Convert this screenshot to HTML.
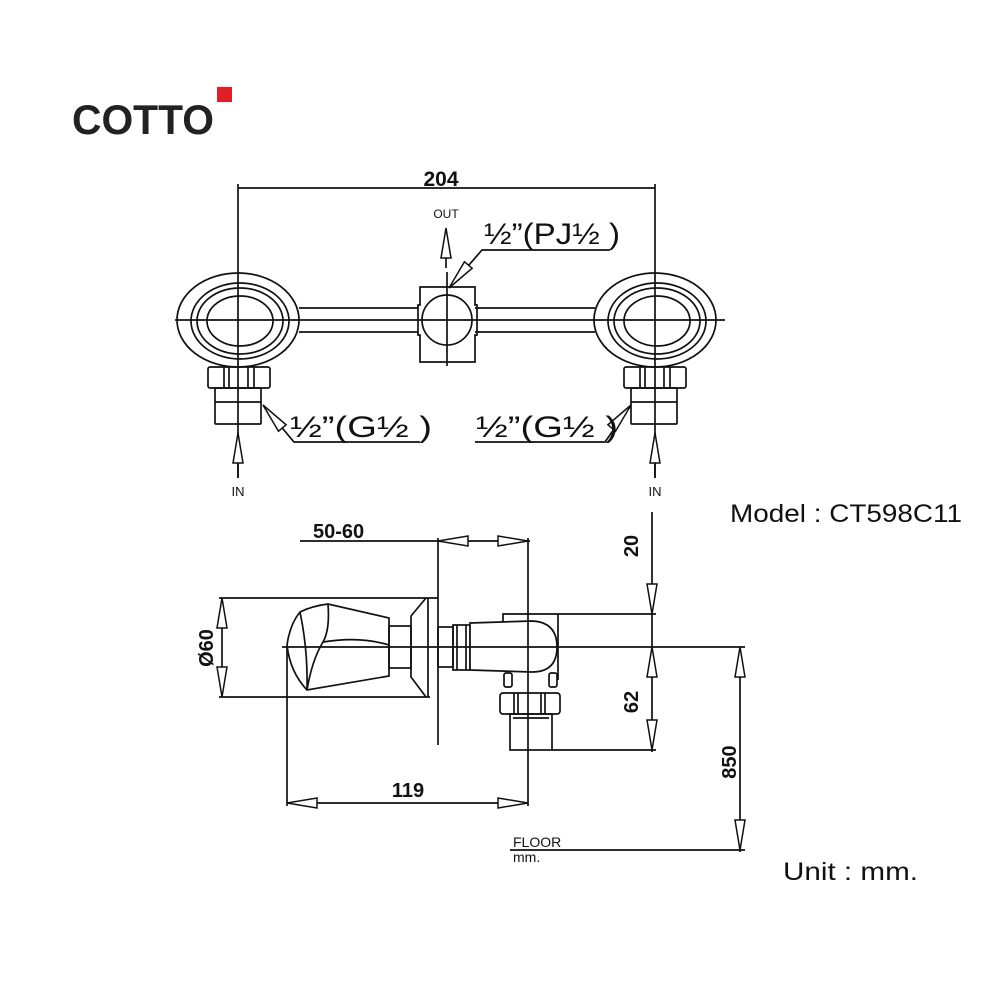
<!DOCTYPE html>
<html><head><meta charset="utf-8"><style>
html,body{margin:0;padding:0;background:#fff;width:1000px;height:1000px;overflow:hidden}
svg{display:block}
text{font-family:"Liberation Sans",sans-serif;fill:#111}
</style></head><body>
<svg width="1000" height="1000" viewBox="0 0 1000 1000" xmlns="http://www.w3.org/2000/svg">
<defs>
<g id="ah"><path d="M0,0 L30,-5 L30,5 Z" fill="#fff" stroke="#111" stroke-width="1.5"/></g>
</defs>
<!-- logo -->
<text x="72" y="134" font-size="42" font-weight="bold" textLength="142" lengthAdjust="spacingAndGlyphs" style="fill:#222">COTTO</text>
<rect x="217" y="87" width="15" height="15" fill="#e01e25"/>

<g stroke="#111" stroke-width="1.7" fill="none">
<!-- TOP VIEW -->
<line x1="238" y1="188" x2="655" y2="188"/>
<!-- left escutcheon -->
<ellipse cx="238" cy="320" rx="61" ry="47" fill="#fff"/>
<ellipse cx="240" cy="321" rx="49" ry="38"/>
<ellipse cx="240" cy="321" rx="43" ry="33"/>
<ellipse cx="240" cy="321" rx="33" ry="25"/>
<!-- right escutcheon -->
<ellipse cx="655" cy="320" rx="61" ry="47" fill="#fff"/>
<ellipse cx="657" cy="321" rx="49" ry="38"/>
<ellipse cx="657" cy="321" rx="43" ry="33"/>
<ellipse cx="657" cy="321" rx="33" ry="25"/>
<line x1="175" y1="320" x2="725" y2="320"/>
<line x1="238" y1="184" x2="238" y2="478"/>
<line x1="655" y1="184" x2="655" y2="478"/>
<!-- bar -->
<line x1="299" y1="308" x2="418" y2="308"/><line x1="299" y1="332" x2="418" y2="332"/>
<line x1="475" y1="308" x2="595" y2="308"/><line x1="475" y1="332" x2="595" y2="332"/>
<!-- center block -->
<path d="M420,287 H475 V305 H477 V335 H475 V362 H420 V335 H418 V305 H420 Z"/>
<circle cx="447" cy="320" r="25"/>
<line x1="447" y1="272" x2="447" y2="366"/>
<!-- OUT arrow -->
<line x1="446" y1="268" x2="446" y2="235"/>
<use href="#ah" transform="translate(446,228) rotate(90)"/>
<!-- PJ leader -->
<polyline points="449,288 482,250 610,250"/>
<use href="#ah" transform="translate(449,288) rotate(-50)"/>
<!-- left nut/pipe -->
<rect x="208" y="367" width="62" height="21" rx="2"/>
<line x1="224" y1="367" x2="224" y2="388"/><line x1="229" y1="367" x2="229" y2="388"/>
<line x1="248" y1="367" x2="248" y2="388"/><line x1="254" y1="367" x2="254" y2="388"/>
<rect x="215" y="388" width="46" height="36" rx="1"/>
<line x1="215" y1="402" x2="261" y2="402"/>
<!-- right nut/pipe -->
<rect x="624" y="367" width="62" height="21" rx="2"/>
<line x1="640" y1="367" x2="640" y2="388"/><line x1="645" y1="367" x2="645" y2="388"/>
<line x1="664" y1="367" x2="664" y2="388"/><line x1="670" y1="367" x2="670" y2="388"/>
<rect x="631" y="388" width="46" height="36" rx="1"/>
<line x1="631" y1="402" x2="677" y2="402"/>
<!-- G leaders -->
<polyline points="263,405 294,442 420,442"/>
<use href="#ah" transform="translate(263,405) rotate(50)"/>
<polyline points="631,405 605,442 475,442"/>
<use href="#ah" transform="translate(631,405) rotate(130)"/>
<!-- IN arrows -->
<line x1="238" y1="440" x2="238" y2="478"/>
<use href="#ah" transform="translate(238,433) rotate(90)"/>
<line x1="655" y1="440" x2="655" y2="478"/>
<use href="#ah" transform="translate(655,433) rotate(90)"/>

<!-- SIDE VIEW -->
<line x1="300" y1="541" x2="530" y2="541"/>
<use href="#ah" transform="translate(438,541)"/>
<use href="#ah" transform="translate(528,541) rotate(180)"/>
<line x1="438" y1="538" x2="438" y2="745"/>
<!-- Ø60 -->
<line x1="219" y1="598" x2="438" y2="598"/>
<line x1="219" y1="697" x2="430" y2="697"/>
<line x1="222" y1="598" x2="222" y2="697"/>
<use href="#ah" transform="translate(222,598) rotate(90)"/>
<use href="#ah" transform="translate(222,697) rotate(-90)"/>
<!-- knob -->
<path d="M300,612 Q312,606 328,604 L389,618 V676 L307,690 Q290,672 287,645 Q290,624 300,612 Z" fill="#fff"/>
<path d="M300,612 Q308,650 307,690"/>
<path d="M328,604 Q330,630 323,642 Q312,660 307,690"/>
<path d="M323,642 Q360,636 389,645"/>
<rect x="389" y="626" width="22" height="42"/>
<path d="M426,598 L411,616 V677 L426,697 M428,598 V697"/>
<!-- connector -->
<rect x="438" y="627" width="15" height="40"/>
<rect x="453" y="625" width="17" height="45"/>
<line x1="457" y1="625" x2="457" y2="670"/><line x1="466" y1="625" x2="466" y2="670"/>
<path d="M503,622 V614 H560 M558,614 V680"/>
<path d="M470,623 L532,621 Q557,622 557,647 Q557,672 532,672 L470,670 Z" fill="#fff"/>
<rect x="504" y="673" width="8" height="14" rx="2"/>
<rect x="549" y="673" width="8" height="14" rx="2"/>
<rect x="500" y="693" width="60" height="21" rx="3" fill="#fff"/>
<line x1="514" y1="693" x2="514" y2="714"/><line x1="518" y1="693" x2="518" y2="714"/>
<line x1="541" y1="693" x2="541" y2="714"/><line x1="545" y1="693" x2="545" y2="714"/>
<rect x="510" y="714" width="42" height="36"/>
<line x1="513" y1="718" x2="549" y2="718"/>
<line x1="282" y1="647" x2="745" y2="647"/>
<line x1="528" y1="538" x2="528" y2="806"/>
<!-- 119 -->
<line x1="287" y1="647" x2="287" y2="806"/>
<line x1="287" y1="803" x2="528" y2="803"/>
<use href="#ah" transform="translate(287,803)"/>
<use href="#ah" transform="translate(528,803) rotate(180)"/>
<!-- 20 / 62 -->
<line x1="652" y1="512" x2="652" y2="752"/>
<line x1="560" y1="614" x2="656" y2="614"/>
<line x1="552" y1="750" x2="656" y2="750"/>
<use href="#ah" transform="translate(652,614) rotate(-90)"/>
<use href="#ah" transform="translate(652,647) rotate(90)"/>
<use href="#ah" transform="translate(652,750) rotate(-90)"/>
<!-- 850 -->
<line x1="740" y1="647" x2="740" y2="852"/>
<use href="#ah" transform="translate(740,647) rotate(90)"/>
<use href="#ah" transform="translate(740,850) rotate(-90)"/>
<line x1="510" y1="850" x2="745" y2="850"/>
</g>

<!-- texts -->
<text x="441" y="186" font-size="21" font-weight="bold" text-anchor="middle">204</text>
<text x="446" y="218" font-size="12" text-anchor="middle">OUT</text>
<text x="484" y="244" font-size="30" textLength="136" lengthAdjust="spacingAndGlyphs">½”(PJ½ )</text>
<text x="290" y="437" font-size="30" textLength="142" lengthAdjust="spacingAndGlyphs">½”(G½ )</text>
<text x="476" y="437" font-size="30" textLength="142" lengthAdjust="spacingAndGlyphs">½”(G½ )</text>
<text x="238" y="496" font-size="13" text-anchor="middle">IN</text>
<text x="655" y="496" font-size="13" text-anchor="middle">IN</text>
<text x="313" y="538" font-size="20" font-weight="bold">50-60</text>
<text x="408" y="797" font-size="20" font-weight="bold" text-anchor="middle">119</text>
<text transform="translate(213,648) rotate(-90)" font-size="20" font-weight="bold" text-anchor="middle">Ø60</text>
<text transform="translate(638,546) rotate(-90)" font-size="20" font-weight="bold" text-anchor="middle">20</text>
<text transform="translate(638,702) rotate(-90)" font-size="20" font-weight="bold" text-anchor="middle">62</text>
<text transform="translate(736,762) rotate(-90)" font-size="20" font-weight="bold" text-anchor="middle">850</text>
<text x="513" y="847" font-size="14">FLOOR</text>
<text x="513" y="862" font-size="14">mm.</text>
<text x="730" y="522" font-size="25" textLength="232" lengthAdjust="spacingAndGlyphs">Model : CT598C11</text>
<text x="783" y="880" font-size="25" textLength="135" lengthAdjust="spacingAndGlyphs">Unit : mm.</text>
</svg>
</body></html>
